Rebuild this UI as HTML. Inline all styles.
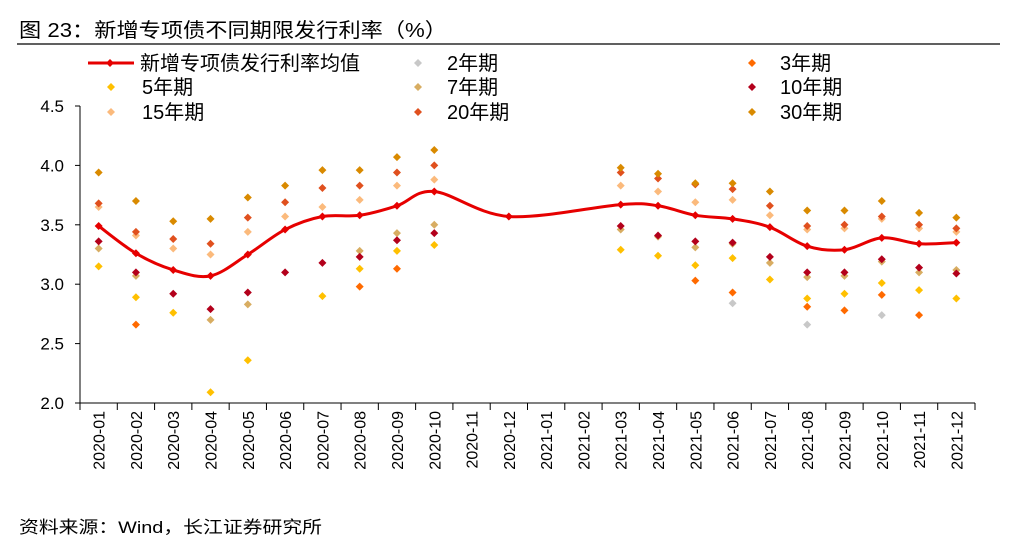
<!DOCTYPE html>
<html><head><meta charset="utf-8"><style>
body{margin:0;background:#fff;width:1011px;height:545px;overflow:hidden;font-family:"Liberation Sans","Noto Sans CJK SC",sans-serif;}
</style></head><body>
<svg id="c" width="1011" height="545" xmlns="http://www.w3.org/2000/svg" font-family="Liberation Sans, Noto Sans CJK SC, sans-serif">
<text x="19" y="37" font-size="20" textLength="428" lengthAdjust="spacingAndGlyphs" fill="#000">图 23：新增专项债不同期限发行利率（%）</text>
<line x1="17" y1="44" x2="1000" y2="44" stroke="#000" stroke-width="1.2"/>
<text x="19" y="533" font-size="17" textLength="303" lengthAdjust="spacingAndGlyphs" fill="#000">资料来源：Wind，长江证券研究所</text>
<g id="plot"></g>
</svg>
<script>
const categories=["2020-01","2020-02","2020-03","2020-04","2020-05","2020-06","2020-07","2020-08","2020-09","2020-10","2020-11","2020-12","2021-01","2021-02","2021-03","2021-04","2021-05","2021-06","2021-07","2021-08","2021-09","2021-10","2021-11","2021-12"];
const yTicks=[2.0,2.5,3.0,3.5,4.0,4.5];
const meanRate=[3.49,3.26,3.12,3.07,3.25,3.46,3.57,3.58,3.66,3.78,null,3.57,null,null,3.67,3.66,3.58,3.55,3.48,3.32,3.29,3.39,3.34,3.35];
const y2=[null,null,null,null,null,null,null,null,null,null,null,null,null,null,null,null,null,2.84,null,2.66,null,2.74,null,null];
const y3=[null,2.66,null,null,null,null,null,2.98,3.13,null,null,null,null,null,null,null,3.03,2.93,null,2.81,2.78,2.91,2.74,null];
const y5=[3.15,2.89,2.76,2.09,2.36,null,2.90,3.13,3.28,3.33,null,null,null,null,3.29,3.24,3.16,3.22,3.04,2.88,2.92,3.01,2.95,2.88];
const y7=[3.30,3.07,null,2.70,2.83,null,null,3.28,3.43,3.50,null,null,null,null,3.46,3.40,3.31,3.34,3.18,3.06,3.07,3.19,3.10,3.12];
const y10=[3.36,3.10,2.92,2.79,2.93,3.10,3.18,3.23,3.37,3.43,null,null,null,null,3.49,3.41,3.36,3.35,3.23,3.10,3.10,3.21,3.14,3.09];
const y15=[3.65,3.41,3.30,3.25,3.44,3.57,3.65,3.71,3.83,3.88,null,null,null,null,3.83,3.78,3.69,3.71,3.58,3.46,3.47,3.55,3.47,3.44];
const y20=[3.68,3.44,3.38,3.34,3.56,3.69,3.81,3.83,3.94,4.00,null,null,null,null,3.94,3.89,3.84,3.80,3.66,3.49,3.50,3.57,3.50,3.47];
const y30=[3.94,3.70,3.53,3.55,3.73,3.83,3.96,3.96,4.07,4.13,null,null,null,null,3.98,3.93,3.85,3.85,3.78,3.62,3.62,3.70,3.60,3.56];

const NS="http://www.w3.org/2000/svg";
const g=document.getElementById('plot');
const L=80,R=975,T=106,B=403,ymin=2,ymax=4.5;
const bw=(R-L)/categories.length;
function xs(i){return L+bw*(i+0.5);}
function ys(v){return B-(v-ymin)/(ymax-ymin)*(B-T);}
function mk(tag,attrs){const e=document.createElementNS(NS,tag);for(const k in attrs)e.setAttribute(k,attrs[k]);g.appendChild(e);return e;}

let ax=mk('line',{x1:L,y1:T,x2:L,y2:B,stroke:'#000','stroke-width':1});


let bx=mk('line',{x1:L,y1:B,x2:R,y2:B,stroke:'#000','stroke-width':1});


yTicks.forEach(t=>{
  const tl=mk('line',{x1:L-5,y1:ys(t),x2:L,y2:ys(t),stroke:'#000'});
  
  
  const tx=mk('text',{x:L-16,y:ys(t)+6,'text-anchor':'end','font-size':17});
  tx.textContent=t.toFixed(1);
  
  
});
for(let i=0;i<=categories.length;i++){
  const tl=mk('line',{x1:L+bw*i,y1:B,x2:L+bw*i,y2:B+7,stroke:'#000'});
  
  
}
categories.forEach((c,i)=>{
  const x=xs(i)+6,y=B+8;
  const tx=mk('text',{x:x,y:y,'text-anchor':'end','font-size':16,transform:`rotate(-90 ${x} ${y})`});
  tx.textContent=c;
  
  
});

const series=[[y2,'#c8c8c8','2y'],[y3,'#ff6a00','3y'],[y5,'#ffc000','5y'],[y7,'#d8ad62','7y'],[y10,'#b3001b','10y'],[y15,'#fbba7c','15y'],[y20,'#e0501e','20y'],[y30,'#d98a00','30y']];
function diamond(x,y,s,col){return mk('path',{d:`M${x} ${y-s}L${x+s} ${y}L${x} ${y+s}L${x-s} ${y}Z`,fill:col});}
series.forEach(([arr,col,n])=>{
  arr.forEach((v,i)=>{
    if(v==null)return;
    const d=diamond(xs(i),ys(v),4,col);
    
    
  });
});

const pts=[];meanRate.forEach((v,i)=>{if(v!=null)pts.push([xs(i),ys(v)]);});
let d=`M${pts[0][0]} ${pts[0][1]}`;
for(let i=0;i<pts.length-1;i++){
  const p0=pts[Math.max(0,i-1)],p1=pts[i],p2=pts[i+1],p3=pts[Math.min(pts.length-1,i+2)];
  const k=1/6;
  d+=`C${p1[0]+(p2[0]-p0[0])*k} ${p1[1]+(p2[1]-p0[1])*k} ${p2[0]-(p3[0]-p1[0])*k} ${p2[1]-(p3[1]-p1[1])*k} ${p2[0]} ${p2[1]}`;
}
const ln=mk('path',{d:d,fill:'none',stroke:'#e60000','stroke-width':3});


pts.forEach(p=>{
  const m=diamond(p[0],p[1],4,'#e60000');
  
  
});

const legend=[['新增专项债发行利率均值','#e60000',110,140,63,true],['2年期','#c8c8c8',418,447,63],['3年期','#ff6a00',752,780,63],
['5年期','#ffc000',111,142,87],['7年期','#d8ad62',418,447,87],['10年期','#b3001b',752,780,87],
['15年期','#fbba7c',111,142,112],['20年期','#e0501e',418,447,112],['30年期','#d98a00',752,780,112]];
legend.forEach(([t,col,mx,tx,y,line])=>{
  if(line){const l=mk('line',{x1:88,y1:y,x2:134,y2:y,stroke:col,'stroke-width':3});
    
    }
  const m=diamond(mx,y,4,col);
  
  
  const te=mk('text',{x:tx,y:y+7,'font-size':20});
  te.textContent=t;
  
  
});
</script>
</body></html>
